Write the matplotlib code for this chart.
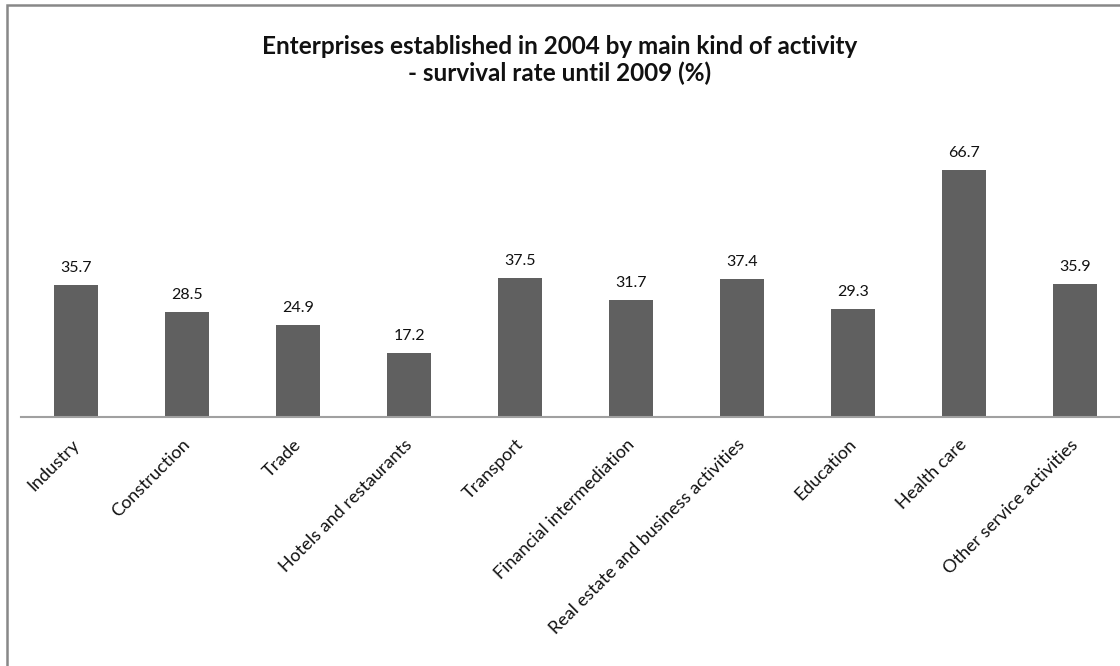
import matplotlib.pyplot as plt
import matplotlib.transforms as mtransforms
from matplotlib.patches import Rectangle

plt.rcParams['font.family'] = ['Lato', 'DejaVu Sans']

categories = ["Industry", "Construction", "Trade", "Hotels and restaurants",
              "Transport", "Financial intermediation",
              "Real estate and business activities", "Education",
              "Health care", "Other service activities"]
survival = [35.7, 28.5, 24.9, 17.2, 37.5, 31.7, 37.4, 29.3, 66.7, 35.9]

fig = plt.figure(figsize=(11.2, 6.66), dpi=100)
# axes: left edge ~20px, baseline at y=417px, spans beyond right edge
W, H = 1120, 666
ax = fig.add_axes([20.5 / W, (H - 417) / H, 1110 / W, 296 / H])

x = range(len(categories))
bars = ax.bar(x, survival, width=0.4, color="#606060")
ax.set_xlim(-0.5, len(categories) - 0.5)
ax.set_ylim(0, 80)

for b, v in zip(bars, survival):
    ax.annotate(f"{v}", (b.get_x() + b.get_width() / 2, v),
                xytext=(0, 10), textcoords="offset pixels",
                ha="center", va="bottom", fontsize=11.5, color="#111111")

ax.set_xticks(list(x))
ax.set_xticklabels(categories, rotation=45, ha="right",
                   rotation_mode="anchor", fontsize=13, color="#111111")
ax.tick_params(axis="x", length=0, pad=14)
shift = mtransforms.ScaledTranslation(-5 / 100, 0, fig.dpi_scale_trans)
for lab in ax.get_xticklabels():
    lab.set_transform(lab.get_transform() + shift)
ax.set_yticks([])
for s in ["top", "right", "left"]:
    ax.spines[s].set_visible(False)
ax.spines["bottom"].set_color("#a0a0a0")
ax.spines["bottom"].set_linewidth(1.5)

fig.text(0.5, 1 - 60 / H, "Enterprises established in 2004 by main kind of activity\n- survival rate until 2009 (%)",
         ha="center", va="center", fontsize=17.5, fontweight="bold",
         color="#111111", linespacing=1.2)

fig.patches.append(Rectangle((7 / W, -0.1), 1.2, 1 - 5 / H + 0.1,
                             transform=fig.transFigure, fill=False,
                             edgecolor="#888888", linewidth=1.8))

fig.savefig("out.png", dpi=100)
